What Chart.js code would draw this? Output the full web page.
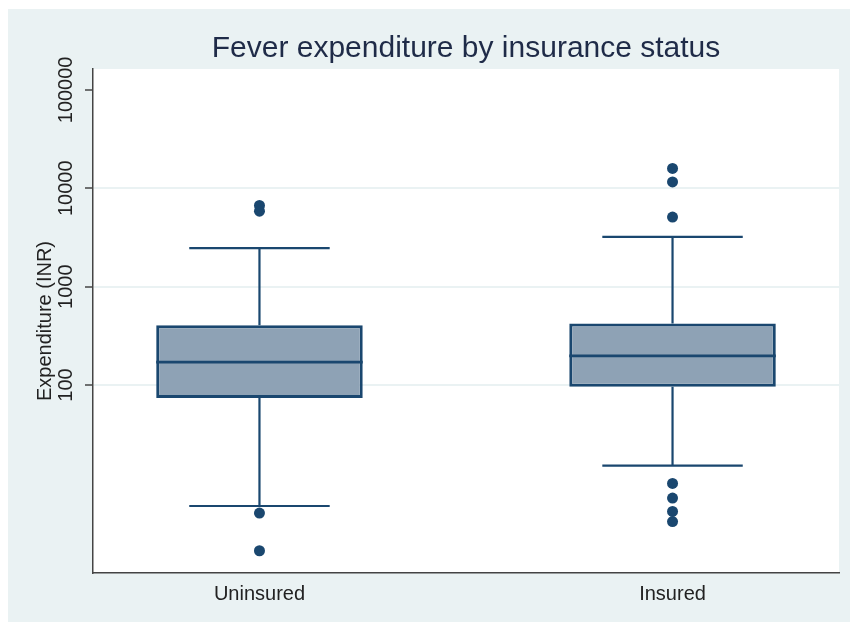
<!DOCTYPE html>
<html>
<head>
<meta charset="utf-8">
<script src="https://cdn.jsdelivr.net/npm/chart.js@4.4.1/dist/chart.umd.min.js"></script>
<style>
html, body { margin: 0; padding: 0; background: #fff; }
#contenedor { width: 850px; height: 622px; }
</style>
</head>
<body>
<div id="contenedor"><canvas id="grafico" width="850" height="622"></canvas></div>
<script>
// Datos (escala log)
const categorias = ['Uninsured', 'Insured'];
const q1 = [74, 96];
const mediana = [171, 198];
const q3 = [406, 423];
const bigoteBajo = [5.9, 15.2];
const bigoteAlto = [2460, 3210];
const atipicosUninsured = [6700, 5850, 5.0, 2.07];
const atipicosInsured = [15900, 11600, 5100, 10, 7.1, 5.2, 4.1];
const ticksY = [100, 1000, 10000, 100000];

const atipicos = [atipicosUninsured, atipicosInsured];
const azul = '#1a476f';
const fuente = '"Liberation Sans", Arial, sans-serif';
Chart.defaults.font.family = fuente;

// lineas de bigotes y topes
const puntosBigotes = [];
const puntosMediana = [];
categorias.forEach((c, i) => {
    const x = i + 1;
    puntosBigotes.push({ x: x, y: q3[i] }, { x: x, y: bigoteAlto[i] }, { x: x, y: null });
    puntosBigotes.push({ x: x - 0.17, y: bigoteAlto[i] }, { x: x + 0.17, y: bigoteAlto[i] }, { x: x, y: null });
    puntosBigotes.push({ x: x, y: q1[i] }, { x: x, y: bigoteBajo[i] }, { x: x, y: null });
    puntosBigotes.push({ x: x - 0.17, y: bigoteBajo[i] }, { x: x + 0.17, y: bigoteBajo[i] }, { x: x, y: null });
    puntosMediana.push({ x: x - 0.25, y: mediana[i] }, { x: x + 0.25, y: mediana[i] }, { x: x, y: null });
});

const fondo = {
    id: 'fondo',
    beforeDraw(chart) {
        const { ctx, chartArea: a } = chart;
        ctx.save();
        ctx.fillStyle = '#eaf2f3';
        ctx.fillRect(8, 9, chart.width - 8, chart.height - 9);
        ctx.fillStyle = '#ffffff';
        ctx.fillRect(a.left, a.top, a.right - a.left, a.bottom - a.top);
        ctx.restore();
    }
};

const titulo = {
    id: 'titulo',
    afterDraw(chart) {
        const { ctx, chartArea: a } = chart;
        ctx.save();
        ctx.font = '30px ' + fuente;
        ctx.fillStyle = '#1f2b48';
        ctx.textAlign = 'center';
        ctx.textBaseline = 'alphabetic';
        ctx.fillText('Fever expenditure by insurance status', (a.left + a.right) / 2, 57);
        ctx.restore();
    }
};

new Chart(document.getElementById('grafico').getContext('2d'), {
    type: 'bar',
    data: {
        datasets: [
            {
                type: 'bar',
                data: categorias.map((c, i) => ({ x: i + 1, y: [q1[i], q3[i]] })),
                backgroundColor: '#8ea2b5',
                borderColor: azul,
                borderWidth: 3,
                borderSkipped: false,
                barPercentage: 0.5,
                categoryPercentage: 1,
                order: 3
            },
            {
                type: 'line',
                data: puntosBigotes,
                borderColor: azul,
                borderWidth: 2.2,
                pointRadius: 0,
                fill: false,
                spanGaps: false,
                order: 2
            },
            {
                type: 'line',
                data: puntosMediana,
                borderColor: azul,
                borderWidth: 2.8,
                pointRadius: 0,
                fill: false,
                spanGaps: false,
                order: 1
            },
            {
                type: 'scatter',
                data: atipicos.flatMap((lista, i) => lista.map(v => ({ x: i + 1, y: v }))),
                pointRadius: 5.5,
                pointBackgroundColor: azul,
                pointBorderColor: azul,
                pointBorderWidth: 0,
                order: 0
            }
        ]
    },
    options: {
        responsive: false,
        animation: false,
        layout: { padding: { top: 69, right: 11, left: 0, bottom: 0 } },
        plugins: {
            legend: { display: false },
            tooltip: { enabled: false }
        },
        scales: {
            x: {
                type: 'linear',
                min: 0.597,
                max: 2.403,
                offset: false,
                afterBuildTicks: (s) => { s.ticks = categorias.map((c, i) => ({ value: i + 1 })); },
                ticks: {
                    callback: (v, i) => categorias[i],
                    color: '#222',
                    font: { size: 20 },
                    padding: 9,
                    autoSkip: false,
                    maxRotation: 0
                },
                grid: { display: false, drawTicks: false, offset: false },
                border: { display: true, color: '#444', width: 1.5 },
                afterFit: (s) => { s.height = 49; }
            },
            y: {
                type: 'logarithmic',
                min: 1.23,
                max: 163000,
                afterBuildTicks: (s) => { s.ticks = ticksY.map(v => ({ value: v })); },
                ticks: {
                    callback: (v) => String(v),
                    minRotation: 90,
                    maxRotation: 90,
                    crossAlign: 'center',
                    padding: -15,
                    color: '#222',
                    font: { size: 20 }
                },
                grid: {
                    color: (ctx) => (ctx.tick && ctx.tick.value === 100000) ? 'rgba(0,0,0,0)' : '#eaf2f3',
                    lineWidth: 2,
                    tickLength: 8,
                    tickColor: '#444',
                    tickWidth: 1.5
                },
                border: { display: true, color: '#444', width: 1.5 },
                title: {
                    display: true,
                    text: 'Expenditure (INR)',
                    color: '#222',
                    font: { size: 20 },
                    padding: { top: 33, bottom: 0 }
                },
                afterFit: (s) => { s.width = 93; }
            }
        }
    },
    plugins: [fondo, titulo]
});
</script>
</body>
</html>
